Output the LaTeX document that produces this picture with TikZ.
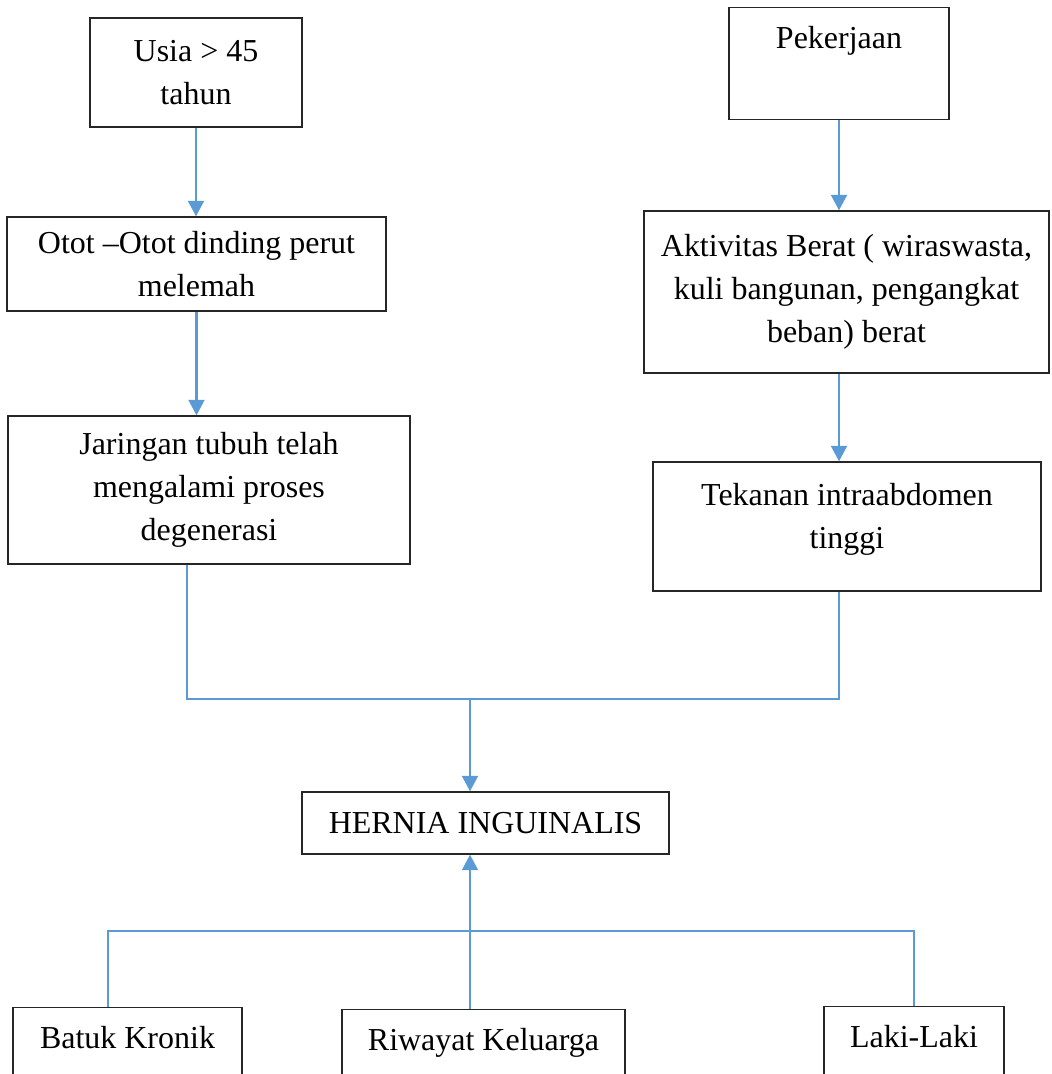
\documentclass[tikz,border=0pt]{standalone}
\usepackage{fontspec}
\setmainfont{Liberation Serif}
\usetikzlibrary{
    positioning,
    arrows.meta
    }
\definecolor{linkblue}{RGB}{91,155,213}

\begin{document}
\begin{tikzpicture}[x=0.02cm, y=-0.02cm]
\tikzset{box/.style =
        {
            rectangle,
            draw=black!85,
            line width=0.8pt,
            align=center,
            inner sep=0cm,
            font=\fontsize{18.2}{24.5}\selectfont
        }
}

\tikzset{topbox/.style =
        {
            box,
            anchor=north,
            inner ysep=6pt,
            text height=17.3pt
        }
}

\tikzset{link/.style = {
            line width=1.2pt,
            draw=linkblue
        }
}

\tikzset{move/.style = {
            link,
            -{Triangle[length=0.31cm, width=0.32cm]}
        }
}

		\useasboundingbox (0,0) rectangle (1051,1074);

		\node[box, minimum width=4.24cm, minimum height=2.18cm] (usia) at (196,72.5) {Usia > 45\\tahun};
		\node[topbox, minimum width=4.4cm, text depth=34.4pt] (kerja) at (839,7) {Pekerjaan};
		\node[box, minimum width=7.58cm, minimum height=1.88cm] (otot) at (196.5,264) {Otot –Otot dinding perut\\melemah};
		\node[box, minimum width=8.1cm, minimum height=3.24cm] (aktiv) at (846.5,292) {Aktivitas Berat ( wiraswasta,\\kuli bangunan, pengangkat\\beban) berat};
		\node[box, minimum width=8.04cm, minimum height=2.96cm] (jarin) at (209,490) {Jaringan tubuh telah\\mengalami proses\\degenerasi};
		\node[box, minimum width=7.76cm, minimum height=2.58cm] (tekan) at (847,526.5) {Tekanan intraabdomen\\tinggi\\[-12pt]\mbox{}};
		\node[box, minimum width=7.34cm, minimum height=1.24cm] (hernia) at (485.5,823) {HERNIA INGUINALIS};

		\begin{scope}[every node/.append style={text depth=40pt}]
			\node[topbox, minimum width=4.58cm] (batuk) at (127.5,1007) {Batuk Kronik};
			\node[topbox, minimum width=5.66cm] (riwayat) at (483.5,1009) {Riwayat Keluarga};
			\node[topbox, minimum width=3.6cm] (laki) at (914,1006) {Laki-Laki};
		\end{scope}

		\coordinate (join) at (470,699);
		\coordinate (bus) at (470,931);

		\draw[move] (usia.south) -- (usia.south |- otot.north);
		\draw[move] (otot.south) -- (otot.south |- jarin.north);
		\draw[move] (kerja.south) -- (kerja.south |- aktiv.north);
		\draw[move] (kerja.south |- aktiv.south) -- (kerja.south |- tekan.north);

		\draw[link] ([xshift=-0.44cm]jarin.south) -- ([xshift=-0.44cm]jarin.south |- join)
			-- (kerja.south |- join) -- (kerja.south |- tekan.south);
		\draw[move] (join) -- (join |- hernia.north);

		\draw[move] (join |- riwayat.north) -- (join |- hernia.south);
		\draw[link] ([xshift=-0.39cm]batuk.north) -- ([xshift=-0.39cm]batuk.north |- bus)
			-- (laki.north |- bus) -- (laki.north);

	\end{tikzpicture}
\end{document}
